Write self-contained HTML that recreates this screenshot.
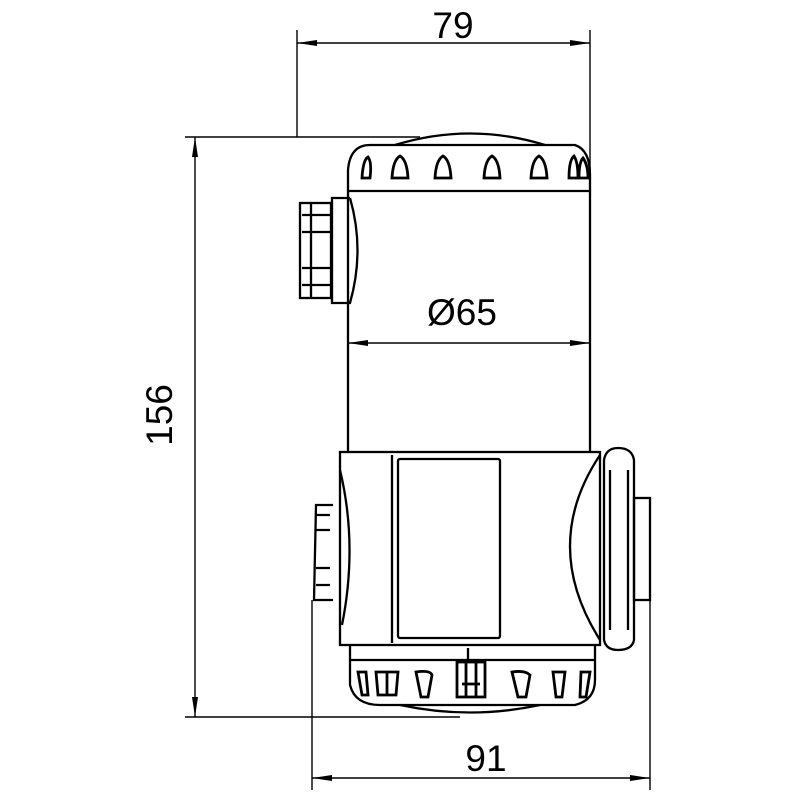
<!DOCTYPE html>
<html><head><style>body{margin:0;background:#fff}svg{display:block}</style></head><body>
<svg width="800" height="800" viewBox="0 0 800 800" xmlns="http://www.w3.org/2000/svg" fill="none" stroke="#000" stroke-width="2.3">
<defs><marker id="a" viewBox="0 0 20 8" refX="20" refY="4" markerWidth="20" markerHeight="8" orient="auto-start-reverse" markerUnits="userSpaceOnUse"><path d="M0,1 L20,4 L0,7" fill="#000" stroke="none"/></marker></defs>
<!-- dims -->
<g stroke-width="1.4">
<line x1="297" y1="30" x2="297" y2="137"/><line x1="590" y1="30" x2="590" y2="190"/>
<line x1="297" y1="43" x2="590" y2="43" marker-start="url(#a)" marker-end="url(#a)"/>
<line x1="185" y1="137" x2="420" y2="137"/><line x1="185" y1="717" x2="460" y2="717"/>
<line x1="195" y1="137" x2="195" y2="717" marker-start="url(#a)" marker-end="url(#a)"/>
<line x1="312" y1="600" x2="312" y2="790"/><line x1="650" y1="600" x2="650" y2="790"/>
<line x1="312" y1="778" x2="650" y2="778" marker-start="url(#a)" marker-end="url(#a)"/>
<line x1="348" y1="343" x2="590" y2="343" marker-start="url(#a)" marker-end="url(#a)"/>
</g>
<g fill="#000" stroke="none" font-family="Liberation Sans, sans-serif" font-size="37">
<text x="453" y="38" text-anchor="middle">79</text>
<text x="462" y="325" text-anchor="middle">Ø65</text>
<text x="486" y="771" text-anchor="middle">91</text>
<text transform="translate(172 415) rotate(-90)" text-anchor="middle">156</text>
</g>
<!-- upper body -->
<path d="M395,145 Q470,122 545,145"/>
<path d="M348,191 L348,170 Q350,145 370,145 L575,145 Q590,150 590,175 L590,452"/>
<line x1="348" y1="191" x2="590" y2="191"/>
<line x1="348" y1="191" x2="348" y2="452"/>
<g stroke-width="2.8">
<path d="M362,178 Q363,160 368,157 Q372,162 370,178 Z"/>
<path d="M392,178 Q393,160 400,156 Q407,160 408,178 Z"/>
<path d="M435,178 Q436,160 443,156 Q450,160 451,178 Z"/>
<path d="M484,178 Q485,160 492,156 Q499,160 500,178 Z"/>
<path d="M531,178 Q532,160 539,156 Q546,160 547,178 Z"/>
<path d="M569,178 Q569,160 574,156 Q578,162 578,178 Z"/>
<path d="M579,178 Q579,162 583,158 Q588,165 588,178 Z"/>
</g>
<!-- left upper connector -->
<path d="M350,198 L332,198 L332,303 L350,303 Q365,250 350,198"/>
<rect x="300" y="203" width="31" height="95"/>
<line x1="302" y1="215" x2="330" y2="215"/><line x1="302" y1="232" x2="330" y2="232"/>
<line x1="302" y1="268" x2="330" y2="268"/><line x1="302" y1="285" x2="330" y2="285"/>
<line x1="311" y1="203" x2="311" y2="298"/>
<!-- lower housing -->
<rect x="340" y="452" width="260" height="193"/>
<path d="M340,470 Q358,545 342,625"/>
<line x1="392" y1="455" x2="392" y2="643"/>
<rect x="398" y="459" width="102" height="179" rx="2"/>
<path d="M600,455 Q540,545 600,640"/>
<path d="M604,460 Q606,448 618,448 Q632,448 634,460 L634,640 Q632,650 618,650 Q606,650 604,640 Z"/>
<path d="M610,470 L610,630 M628,470 L628,630"/>
<rect x="634" y="498" width="16" height="102"/>
<path d="M333,505 L316,505 L314,600 L333,600"/>
<path d="M316,515 h14 M316,530 h14 M316,568 h14 M316,585 h14"/>
<!-- bottom cap -->
<path d="M350,645 L350,685 Q355,705 380,705 L575,705 Q595,700 595,680 L595,645"/>
<line x1="350" y1="660" x2="595" y2="660"/>
<path d="M400,705 Q470,720 540,705"/>
<g stroke-width="2.8">
<path d="M358,672 L366,672 L368,695 L362,695 Z"/>
<path d="M376,672 L398,672 L396,695 L378,695 Z"/><path d="M387,672 L387,695"/>
<path d="M416,672 Q430,670 432,675 L428,697 L421,697 Z"/>
<rect x="457" y="662" width="28" height="35"/><path d="M466,662 v35 M476,662 v35 M462,684 h18"/>
<path d="M512,672 Q525,670 530,675 L526,697 L518,697 Z"/>
<path d="M553,672 L565,672 L562,697 L556,697 Z"/>
<path d="M581,672 L590,672 L586,697 L580,697 Z"/>
</g>
<line x1="468" y1="648" x2="468" y2="660"/>
</svg>
</body></html>
